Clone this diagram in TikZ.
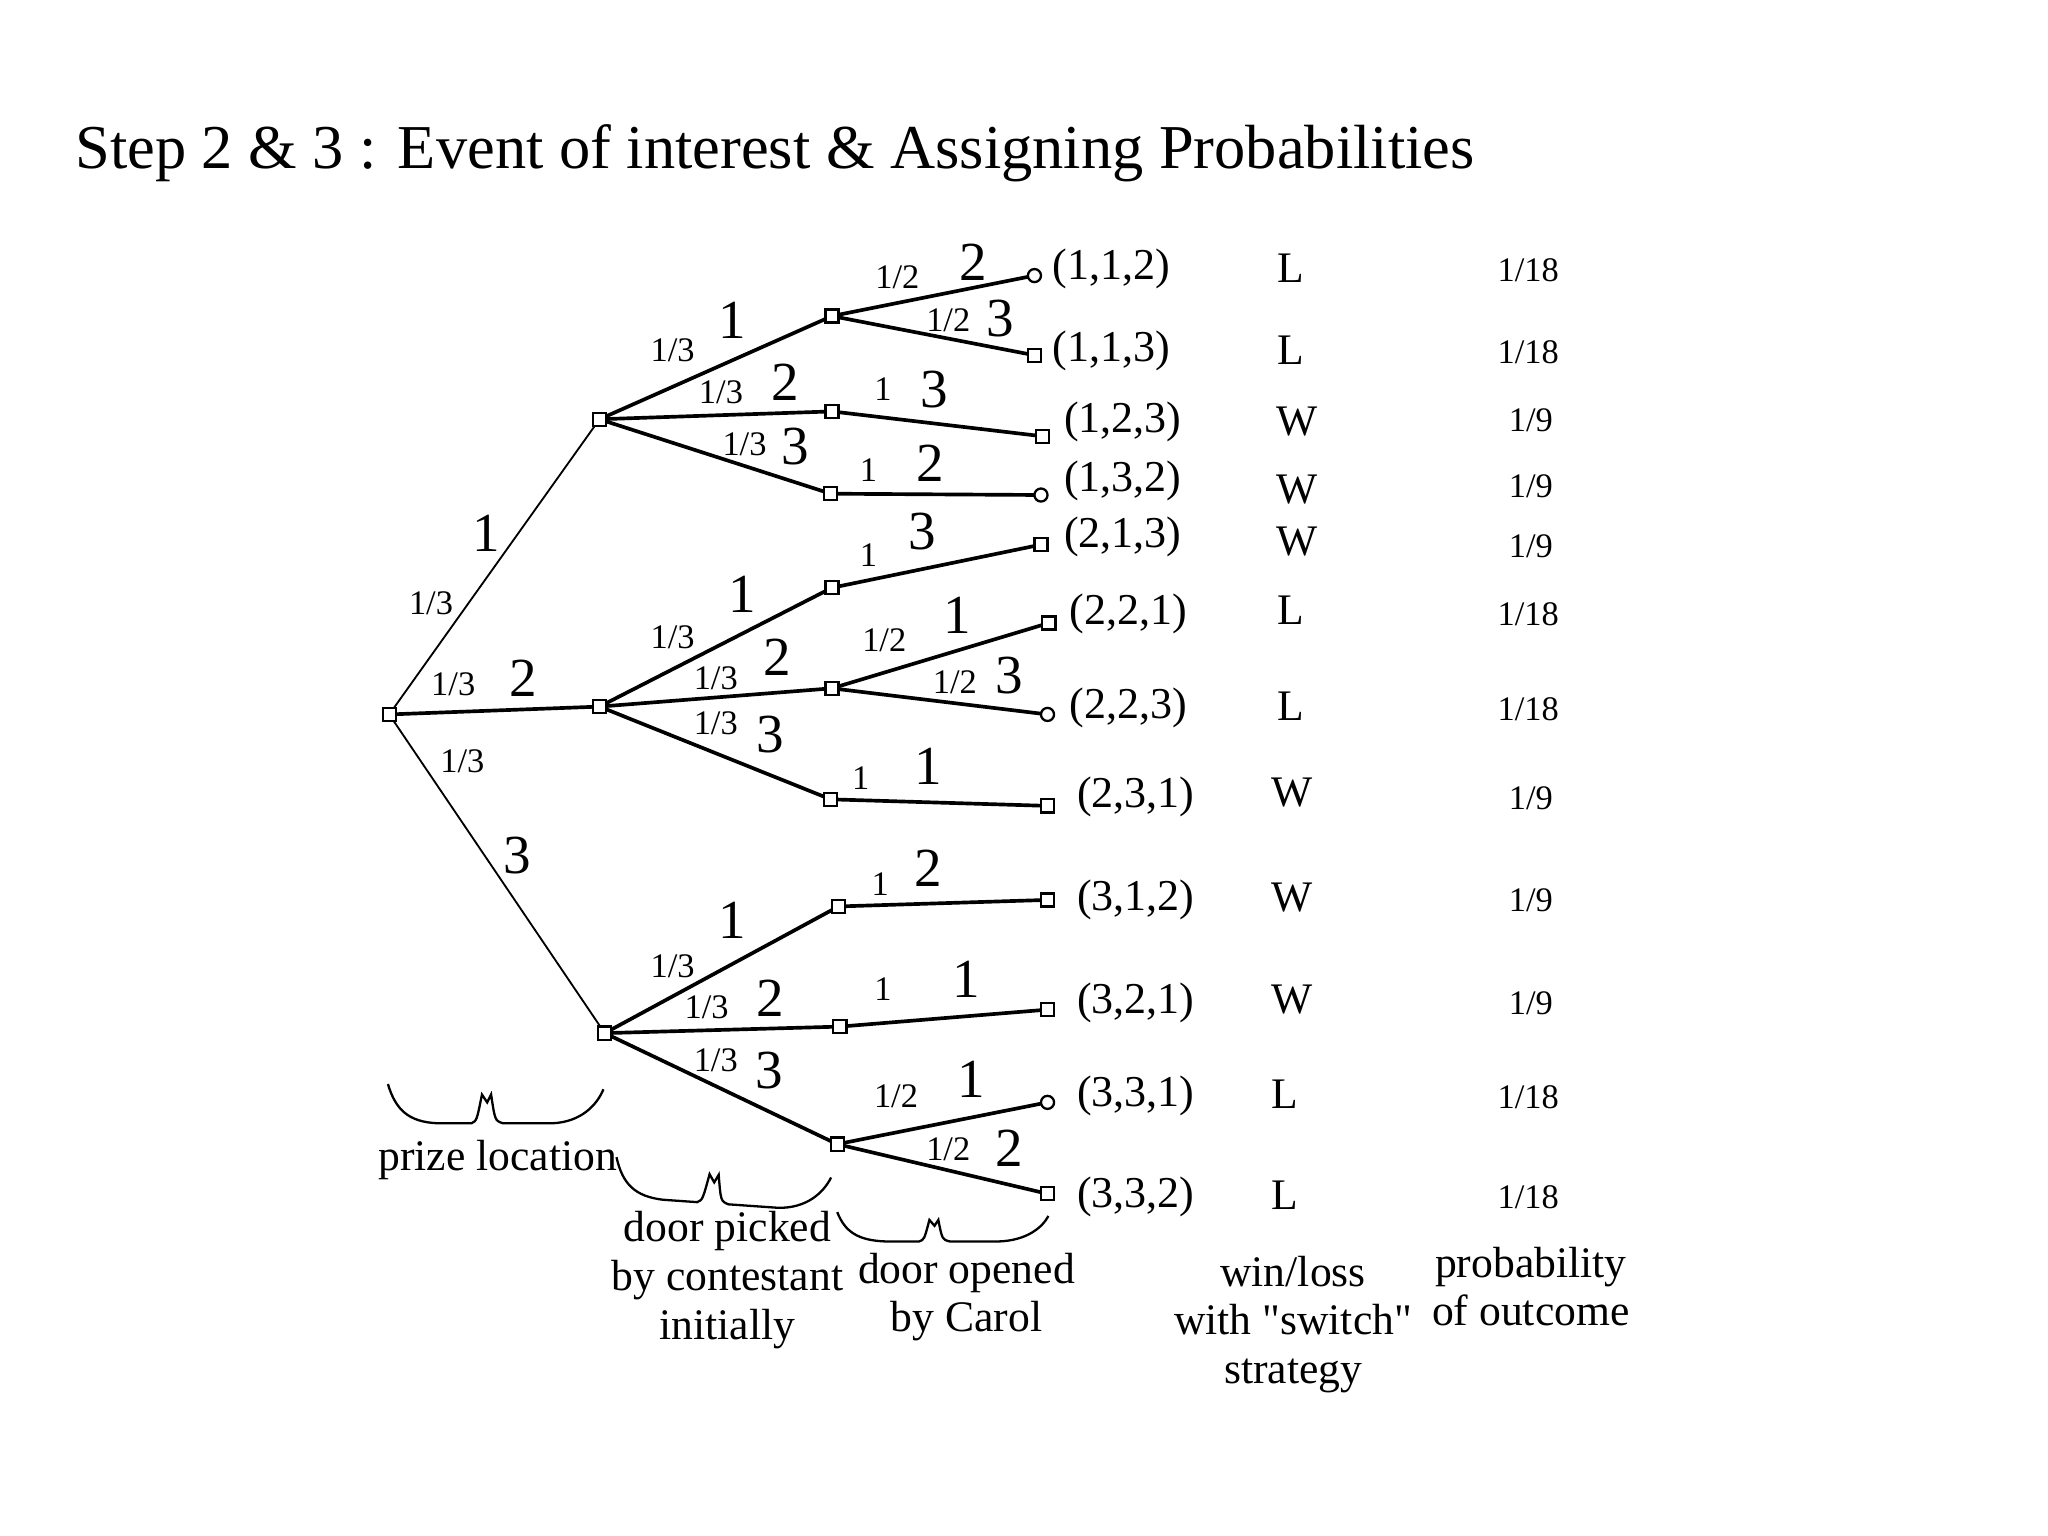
\documentclass[tikz,border=0pt]{standalone}
\usepackage{fontspec}
\setmainfont{Liberation Serif}
\usepackage{tikz}
\usepackage{tkz-graph}

\tikzset{
  catbrace/.pic={
    \draw[line width=0.5pt] (0,0) .. controls (0.06,-0.2) and (0.16,-0.29) .. (0.38,-0.30)
      -- (0.64,-0.30) .. controls (0.68,-0.28) .. (0.72,-0.08) -- (0.76,-0.14) -- (0.79,-0.08)
      .. controls (0.82,-0.28) .. (0.88,-0.30) -- (1.26,-0.30)
      .. controls (1.48,-0.29) and (1.60,-0.16) .. (1.65,-0.04);
  }
}

\begin{document}
\begin{tikzpicture}[
  frac/.style={inner sep=0pt, font=\fontsize{7.5}{7.5}\selectfont},
  door/.style={inner sep=0pt, font=\fontsize{12}{12}\selectfont},
  outc/.style={anchor=west, inner sep=0pt, font=\fontsize{9.6}{9.6}\selectfont},
  wl/.style={inner sep=0pt, font=\fontsize{9.5}{9.5}\selectfont},
  prob/.style={inner sep=0pt, font=\fontsize{7.5}{7.5}\selectfont},
  caption/.style={align=center, inner sep=0pt, font=\fontsize{9.5}{10.6}\selectfont}]
			%\draw[help lines] (0,0) grid (15,-11);
			\useasboundingbox (0,0) rectangle (15.68,-11.76);
			
			\node[anchor=base west, inner sep=0pt, font=\fontsize{13.6}{13.6}\selectfont] (title) at (0.57,-1.29)
			{Step 2 \& 3 : Event of interest \& Assigning Probabilities};
			
			\SetVertexNormal[
			Shape 		= rectangle,
			LineWidth 	= 0.5pt,
			MinSize 	= 0.1cm,
			InnerSep 	= 0pt]
			
			% prize location
			\Vertex[x=2.98,y=-5.47,NoLabel]{R}
			% door picked
			\Vertex[x=4.59,y=-3.21,NoLabel]{A1}
			\Vertex[x=4.59,y=-5.41,NoLabel]{A2}
			\Vertex[x=4.63,y=-7.91,NoLabel]{A3}
			% door opened
			\Vertex[x=6.37,y=-2.42,NoLabel]{B11}
			\Vertex[x=6.37,y=-3.15,NoLabel]{B12}
			\Vertex[x=6.36,y=-3.78,NoLabel]{B13}
			\Vertex[x=6.37,y=-4.50,NoLabel]{B21}
			\Vertex[x=6.37,y=-5.27,NoLabel]{B22}
			\Vertex[x=6.36,y=-6.12,NoLabel]{B23}
			\Vertex[x=6.42,y=-6.94,NoLabel]{B31}
			\Vertex[x=6.43,y=-7.86,NoLabel]{B32}
			\Vertex[x=6.41,y=-8.76,NoLabel]{B33}
			% outcomes
			\Vertex[x=7.92,y=-2.72,NoLabel]{C113}
			\Vertex[x=7.98,y=-3.34,NoLabel]{C123}
			\Vertex[x=7.97,y=-4.17,NoLabel]{C213}
			\Vertex[x=8.03,y=-4.77,NoLabel]{C221}
			\Vertex[x=8.02,y=-6.17,NoLabel]{C231}
			\Vertex[x=8.02,y=-6.89,NoLabel]{C312}
			\Vertex[x=8.02,y=-7.73,NoLabel]{C321}
			\Vertex[x=8.02,y=-9.14,NoLabel]{C332}
			
			\SetVertexNormal[
			Shape 		= circle,
			LineWidth 	= 0.5pt,
			MinSize 	= 0.1cm,
			InnerSep 	= 0pt]
			
			\Vertex[x=7.92,y=-2.11,NoLabel]{C112}
			\Vertex[x=7.97,y=-3.79,NoLabel]{C132}
			\Vertex[x=8.02,y=-5.47,NoLabel]{C223}
			\Vertex[x=8.02,y=-8.44,NoLabel]{C331}
			
			\SetUpEdge[
			lw 		= 0.4pt,
			color 	= black]
			
			\Edges(R,A1)
			\Edges(R,A3)
			
			\SetUpEdge[
			lw 		= 0.8pt,
			color 	= black]
			
			\Edges(R,A2)
			
			\Edges(A1,B11)
			\Edges(A1,B12)
			\Edges(A1,B13)
			\Edges(A2,B21)
			\Edges(A2,B22)
			\Edges(A2,B23)
			\Edges(A3,B31)
			\Edges(A3,B32)
			\Edges(A3,B33)
			
			\Edges(B11,C112)
			\Edges(B11,C113)
			\Edges(B12,C123)
			\Edges(B13,C132)
			\Edges(B21,C213)
			\Edges(B22,C221)
			\Edges(B22,C223)
			\Edges(B23,C231)
			\Edges(B31,C312)
			\Edges(B32,C321)
			\Edges(B33,C331)
			\Edges(B33,C332)
			
			% labels on the first branches
			\node[frac] (pR1) at (3.30,-4.62) {1/3};
			\node[door] (dR1) at (3.72,-4.08) {1};
			\node[frac] (pR2) at (3.47,-5.24) {1/3};
			\node[door] (dR2) at (4.01,-5.19) {2};
			\node[frac] (pR3) at (3.54,-5.83) {1/3};
			\node[door] (dR3) at (3.96,-6.55) {3};
			
			% labels on the second branches
			\node[frac] (p11) at (5.15,-2.68) {1/3};
			\node[door] (d11) at (5.61,-2.45) {1};
			\node[frac] (p12) at (5.52,-3.00) {1/3};
			\node[door] (d12) at (6.01,-2.93) {2};
			\node[frac] (p13) at (5.70,-3.40) {1/3};
			\node[door] (d13) at (6.09,-3.42) {3};
			\node[frac] (p21) at (5.15,-4.88) {1/3};
			\node[door] (d21) at (5.68,-4.55) {1};
			\node[frac] (p22) at (5.48,-5.19) {1/3};
			\node[door] (d22) at (5.95,-5.03) {2};
			\node[frac] (p23) at (5.48,-5.54) {1/3};
			\node[door] (d23) at (5.90,-5.62) {3};
			\node[frac] (p31) at (5.15,-7.40) {1/3};
			\node[door] (d31) at (5.61,-7.05) {1};
			\node[frac] (p32) at (5.41,-7.71) {1/3};
			\node[door] (d32) at (5.90,-7.64) {2};
			\node[frac] (p33) at (5.48,-8.12) {1/3};
			\node[door] (d33) at (5.89,-8.20) {3};
			
			% labels on the third branches
			\node[frac] (p112) at (6.87,-2.12) {1/2};
			\node[door] (d112) at (7.45,-2.01) {2};
			\node[frac] (p113) at (7.26,-2.45) {1/2};
			\node[door] (d113) at (7.66,-2.44) {3};
			\node[frac] (p123) at (6.76,-2.98) {1};
			\node[door] (d123) at (7.15,-2.98) {3};
			\node[frac] (p132) at (6.65,-3.60) {1};
			\node[door] (d132) at (7.12,-3.55) {2};
			\node[frac] (p213) at (6.65,-4.25) {1};
			\node[door] (d213) at (7.06,-4.07) {3};
			\node[frac] (p221) at (6.77,-4.90) {1/2};
			\node[door] (d221) at (7.33,-4.71) {1};
			\node[frac] (p223) at (7.31,-5.22) {1/2};
			\node[door] (d223) at (7.73,-5.17) {3};
			\node[frac] (p231) at (6.59,-5.96) {1};
			\node[door] (d231) at (7.11,-5.87) {1};
			\node[frac] (p312) at (6.74,-6.77) {1};
			\node[door] (d312) at (7.11,-6.65) {2};
			\node[frac] (p321) at (6.76,-7.57) {1};
			\node[door] (d321) at (7.40,-7.50) {1};
			\node[frac] (p331) at (6.86,-8.39) {1/2};
			\node[door] (d331) at (7.44,-8.26) {1};
			\node[frac] (p332) at (7.26,-8.80) {1/2};
			\node[door] (d332) at (7.73,-8.79) {2};
			
			% outcomes
			\node[outc] (o112) at (8.05,-2.06) {(1,1,2)};
			\node[outc] (o113) at (8.05,-2.69) {(1,1,3)};
			\node[outc] (o123) at (8.14,-3.23) {(1,2,3)};
			\node[outc] (o132) at (8.14,-3.68) {(1,3,2)};
			\node[outc] (o213) at (8.14,-4.11) {(2,1,3)};
			\node[outc] (o221) at (8.18,-4.70) {(2,2,1)};
			\node[outc] (o223) at (8.18,-5.42) {(2,2,3)};
			\node[outc] (o231) at (8.24,-6.10) {(2,3,1)};
			\node[outc] (o312) at (8.24,-6.89) {(3,1,2)};
			\node[outc] (o321) at (8.24,-7.68) {(3,2,1)};
			\node[outc] (o331) at (8.24,-8.39) {(3,3,1)};
			\node[outc] (o332) at (8.24,-9.16) {(3,3,2)};
			
			% win / loss
			\node[wl] (w112) at (9.88,-2.05) {L};
			\node[wl] (w113) at (9.88,-2.68) {L};
			\node[wl] (w123) at (9.93,-3.23) {W};
			\node[wl] (w132) at (9.93,-3.75) {W};
			\node[wl] (w213) at (9.93,-4.15) {W};
			\node[wl] (w221) at (9.88,-4.67) {L};
			\node[wl] (w223) at (9.88,-5.41) {L};
			\node[wl] (w231) at (9.89,-6.07) {W};
			\node[wl] (w312) at (9.89,-6.87) {W};
			\node[wl] (w321) at (9.89,-7.65) {W};
			\node[wl] (w331) at (9.84,-8.38) {L};
			\node[wl] (w332) at (9.84,-9.15) {L};
			
			% probabilities
			\node[prob] (q112) at (11.70,-2.07) {1/18};
			\node[prob] (q113) at (11.70,-2.70) {1/18};
			\node[prob] (q123) at (11.72,-3.22) {1/9};
			\node[prob] (q132) at (11.72,-3.72) {1/9};
			\node[prob] (q213) at (11.72,-4.18) {1/9};
			\node[prob] (q221) at (11.70,-4.70) {1/18};
			\node[prob] (q223) at (11.70,-5.43) {1/18};
			\node[prob] (q231) at (11.72,-6.11) {1/9};
			\node[prob] (q312) at (11.72,-6.89) {1/9};
			\node[prob] (q321) at (11.72,-7.68) {1/9};
			\node[prob] (q331) at (11.70,-8.40) {1/18};
			\node[prob] (q332) at (11.70,-9.17) {1/18};
			
			% braces and captions
			\pic at (2.97,-8.30) {catbrace};
			\pic[rotate=-4] at (4.72,-8.86) {catbrace};
			\pic[xscale=0.98, yscale=0.75] at (6.41,-9.28) {catbrace};
			
			\node[caption] (cap1) at (3.81,-8.88) {prize location};
			\node[caption] (cap2) at (5.57,-9.80) {door picked\\by contestant\\initially};
			\node[caption] (cap3) at (7.40,-9.93) {door opened\\by Carol};
			\node[caption] (cap4) at (9.90,-10.14) {win/loss\\with \textquotedbl switch\textquotedbl\\strategy};
			\node[caption] (cap5) at (11.72,-9.85) {probability\\of outcome};
			
\end{tikzpicture}
\end{document}
